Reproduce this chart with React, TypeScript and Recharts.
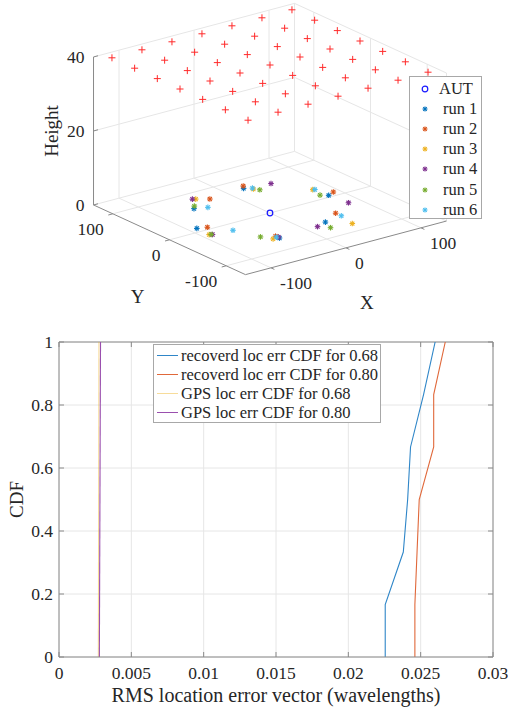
import { ScatterChart, Scatter, LineChart, Line, XAxis, YAxis, CartesianGrid, ReferenceLine, Legend } from 'recharts'

const SERIF = '"Liberation Serif", "Times New Roman", Times, serif'
const AXIS = '#8a8a8a'
const GRID = '#e6e6e6'
const INK = '#262626'

// ---------- top plot: positions in metres (x, y), height above ground ----------
const xLim = [-134, 134]
const yLim = [-134, 134]
const heightLim = [0, 40]
const xyTicks = [-100, 0, 100]
const heightTicks = [0, 20, 40]

// anchors flying at 40 m
const anchorX = [-120, -80, -40, 0, 40, 80, 120]
const anchorY = [120, 80, 40, 0, -40, -80, -120]
const anchorHeight = 40

const autPos = [[0, 0]]
const run1 = [[-56, 60], [23, 77], [82, 5], [30, -58], [-90, 10], [-38, -67]]
const run2 = [[-25, 73], [27, 83], [92, 10], [55, -43], [-79, 6], [-38, -60]]
const run3 = [[-37, 82], [30, 69], [79, 29], [50, -79], [-91, -13], [-45, -65]]
const run4 = [[-40, 84], [55, 71], [85, -26], [15, -64], [-88, -15], [-37, -64]]
const run5 = [[-51, 66], [34, 63], [75, 11], [24, -75], [-89, -14], [-52, -52]]
const run6 = [[-42, 54], [31, 72], [81, 28], [55, -53], [-63, -18], [-39, -63]]
const runs = [run1, run2, run3, run4, run5, run6]
const runNames = ['run 1', 'run 2', 'run 3', 'run 4', 'run 5', 'run 6']
const runColors = ['#0072BD', '#D95319', '#EDB120', '#7E2F8E', '#77AC30', '#4DBEEE']

// ---------- bottom plot: CDF of RMS location error ----------
const cdfLevels = [0, 0.1667, 0.3333, 0.5, 0.6667, 0.8333, 1]
const rec68 = [0.02255, 0.02255, 0.0238, 0.0241, 0.0243, 0.0252, 0.026]
const rec80 = [0.0246, 0.0246, 0.02475, 0.0249, 0.0259, 0.0259, 0.0267]
const gpsLevels = [0, 1]
const gps68 = [0.00272, 0.00276]
const gps80 = [0.00279, 0.00287]
const errTicks = [0, 0.005, 0.01, 0.015, 0.02, 0.025, 0.03]
const cdfTicks = [0, 0.2, 0.4, 0.6, 0.8, 1]
const cdfNames = ['recoverd loc err CDF for 0.68', 'recoverd loc err CDF for 0.80', 'GPS loc err CDF for 0.68', 'GPS loc err CDF for 0.80']
const cdfColors = ['#2f86c8', '#e0683a', '#EDB120', '#9a4fae']
const cdfOpacity = [1, 1, 0.45, 1]

// camera: screen offset per unit of x, y and height
const view = { ox: 270, oy: 213, ex: [0.75, -0.2], ey: [-0.567, -0.26], ez: [0, -3.7] }
function project(x: number, y: number, z: number) {
  return {
    sx: view.ox + x * view.ex[0] + y * view.ey[0] + z * view.ez[0],
    sy: view.oy + x * view.ex[1] + y * view.ey[1] + z * view.ez[1],
  }
}

const [x0, x1] = xLim
const [y0, y1] = yLim
const [z0, z1] = heightLim

type Seg = { a: number[]; b: number[]; axis?: boolean }
const segs: Seg[] = []
xyTicks.forEach(t => {
  segs.push({ a: [t, y0, 0], b: [t, y1, 0] })
  segs.push({ a: [x0, t, 0], b: [x1, t, 0] })
})
;[...xyTicks, x1].forEach(t => segs.push({ a: [t, y1, z0], b: [t, y1, z1] }))
;[...xyTicks, y0].forEach(t => segs.push({ a: [x1, t, z0], b: [x1, t, z1] }))
heightTicks.forEach(z => {
  segs.push({ a: [x0, y1, z], b: [x1, y1, z] })
  segs.push({ a: [x1, y0, z], b: [x1, y1, z] })
})
segs.push({ a: [x0, y1, 0], b: [x0, y0, 0], axis: true })
segs.push({ a: [x0, y0, 0], b: [x1, y0, 0], axis: true })
segs.push({ a: [x0, y1, z0], b: [x0, y1, z1], axis: true })
xyTicks.forEach(t => {
  segs.push({ a: [t, y0, 0], b: [t, y0 - 6, 0], axis: true })
  segs.push({ a: [x0, t, 0], b: [x0 - 6, t, 0], axis: true })
})
heightTicks.forEach(z => segs.push({ a: [x0, y1, z], b: [x0 + 6, y1, z], axis: true }))

const anchorPts = anchorY.flatMap(y => anchorX.map(x => project(x, y, anchorHeight)))
const autPts = autPos.map(([x, y]) => project(x, y, 0))
const runPts = runs.map(r => r.map(([x, y]) => project(x, y, 0)))

const labels3d = [
  ...heightTicks.map(z => ({ ...project(x0, y1, z), dx: -9, dy: 6, text: String(z), anchor: 'end', size: 17.5, rot: 0 })),
  ...xyTicks.map(t => ({ ...project(x0, t, 0), dx: -9, dy: 21, text: String(t), anchor: 'end', size: 17.5, rot: 0 })),
  ...xyTicks.map(t => ({ ...project(t, y0, 0), dx: 9, dy: 21, text: String(t), anchor: 'start', size: 17.5, rot: 0 })),
  { ...project(x0, y1, 20), dx: -36, dy: 0, text: 'Height', anchor: 'middle', size: 19, rot: -90 },
  { ...project(x0, 0, 0), dx: -32, dy: 63, text: 'Y', anchor: 'middle', size: 19, rot: 0 },
  { ...project(0, y0, 0), dx: 21, dy: 61, text: 'X', anchor: 'middle', size: 19, rot: 0 },
]

function Asterisk({ cx, cy, color, s = 2.8 }: any) {
  const d = s * 0.72
  return (
    <g stroke={color} strokeWidth={1.1}>
      <line x1={cx - s} y1={cy} x2={cx + s} y2={cy} />
      <line x1={cx} y1={cy - s} x2={cx} y2={cy + s} />
      <line x1={cx - d} y1={cy - d} x2={cx + d} y2={cy + d} />
      <line x1={cx - d} y1={cy + d} x2={cx + d} y2={cy - d} />
    </g>
  )
}

function Plus({ cx, cy }: any) {
  return (
    <g stroke="#ff2a2a" strokeWidth={1}>
      <line x1={cx - 3.5} y1={cy} x2={cx + 3.5} y2={cy} />
      <line x1={cx} y1={cy - 3.5} x2={cx} y2={cy + 3.5} />
    </g>
  )
}

function Ring({ cx, cy }: any) {
  return <circle cx={cx} cy={cy} r={2.8} fill="none" stroke="#1a1aff" strokeWidth={1.2} />
}

function Label3d(p: any) {
  const d = p.payload
  const x = p.cx + d.dx
  const y = p.cy + d.dy
  return (
    <text x={x} y={y} textAnchor={d.anchor} fontFamily={SERIF} fontSize={d.size} fill={INK}
      transform={d.rot ? `rotate(${d.rot} ${x} ${y})` : undefined}>
      {d.text}
    </text>
  )
}

function RunsLegend() {
  const items = ['AUT', ...runNames]
  return (
    <div style={{ position: 'relative', width: 73, height: 143, boxSizing: 'border-box', border: '1px solid #a8a8a8', background: '#fff', fontFamily: SERIF, fontSize: 16.5, color: INK }}>
      {items.map((name, i) => (
        <div key={name} style={{ position: 'absolute', left: 0, top: 2 + i * 20.1, height: 20, display: 'flex', alignItems: 'center', whiteSpace: 'nowrap' }}>
          <svg width={i === 0 ? 29 : 33} height={20}>
            {i === 0
              ? <Ring cx={15} cy={10} />
              : <Asterisk cx={15} cy={10} s={2.5} color={runColors[i - 1]} />}
          </svg>
          <span>{name}</span>
        </div>
      ))}
    </div>
  )
}

function CdfLegend() {
  return (
    <div style={{ position: 'relative', width: 228, height: 79, boxSizing: 'border-box', border: '1px solid #a8a8a8', background: '#fff', fontFamily: SERIF, fontSize: 16.5, color: INK }}>
      {cdfNames.map((name, i) => (
        <div key={name} style={{ position: 'absolute', left: 0, top: 1 + i * 19, height: 19, display: 'flex', alignItems: 'center', whiteSpace: 'nowrap' }}>
          <svg width={27} height={19}>
            <line x1={3} x2={24} y1={9.5} y2={9.5} stroke={cdfColors[i]} strokeOpacity={cdfOpacity[i]} />
          </svg>
          <span>{name}</span>
        </div>
      ))}
    </div>
  )
}

const PLOT_TOP = 32
const PLOT_BOTTOM = 347
const PLOT_LEFT = 59
const PLOT_RIGHT = 493

function XTick({ x, payload }: any) {
  return (
    <g>
      <line x1={x} x2={x} y1={PLOT_BOTTOM} y2={PLOT_BOTTOM - 5} stroke={AXIS} />
      <line x1={x} x2={x} y1={PLOT_TOP} y2={PLOT_TOP + 5} stroke={AXIS} />
      <text x={x} y={PLOT_BOTTOM + 22} textAnchor="middle" fontFamily={SERIF} fontSize={17.5} fill={INK}>{String(payload.value)}</text>
    </g>
  )
}

function YTick({ y, payload }: any) {
  return (
    <g>
      <line x1={PLOT_LEFT} x2={PLOT_LEFT + 5} y1={y} y2={y} stroke={AXIS} />
      <line x1={PLOT_RIGHT} x2={PLOT_RIGHT - 5} y1={y} y2={y} stroke={AXIS} />
      <text x={PLOT_LEFT - 6} y={y + 6} textAnchor="end" fontFamily={SERIF} fontSize={17.5} fill={INK}>{String(payload.value)}</text>
    </g>
  )
}

function XTitle() {
  return <text x={(PLOT_LEFT + PLOT_RIGHT) / 2} y={392} textAnchor="middle" fontFamily={SERIF} fontSize={20} fill={INK}>RMS location error vector (wavelengths)</text>
}

function YTitle() {
  const cx = 23
  const cy = (PLOT_TOP + PLOT_BOTTOM) / 2
  return <text x={cx} y={cy} textAnchor="middle" fontFamily={SERIF} fontSize={19} fill={INK} transform={`rotate(-90 ${cx} ${cy})`}>CDF</text>
}

const toSeries = (xs: number[], levels: number[]) => xs.map((err, i) => ({ err, cdf: levels[i] }))
const cdfSeries = [toSeries(rec68, cdfLevels), toSeries(rec80, cdfLevels), toSeries(gps68, gpsLevels), toSeries(gps80, gpsLevels)]

const TOP_H = 324

export default function App() {
  return (
    <div style={{ position: 'absolute', left: 0, top: 0, width: 508, height: 708, background: '#fff' }}>
      <div style={{ position: 'absolute', left: 0, top: 0 }}>
        <ScatterChart width={508} height={TOP_H} margin={{ top: 0, right: 0, bottom: 0, left: 0 }}>
          <XAxis type="number" dataKey="sx" domain={[0, 508]} hide />
          <YAxis type="number" dataKey="sy" domain={[0, TOP_H]} reversed hide />
          {segs.map((s, i) => {
            const p = project(s.a[0], s.a[1], s.a[2])
            const q = project(s.b[0], s.b[1], s.b[2])
            return (
              <ReferenceLine key={i} segment={[{ x: p.sx, y: p.sy }, { x: q.sx, y: q.sy }]}
                stroke={s.axis ? AXIS : GRID} strokeWidth={1} ifOverflow="visible" />
            )
          })}
          <Scatter name="anchors" data={anchorPts} shape={(p: any) => <Plus {...p} />} legendType="none" isAnimationActive={false} />
          <Scatter name="AUT" data={autPts} fill="#1a1aff" shape={(p: any) => <Ring {...p} />} isAnimationActive={false} />
          {runPts.map((pts, i) => (
            <Scatter key={runNames[i]} name={runNames[i]} data={pts} fill={runColors[i]}
              shape={(p: any) => <Asterisk cx={p.cx} cy={p.cy} color={runColors[i]} />} isAnimationActive={false} />
          ))}
          <Scatter name="labels" data={labels3d} shape={(p: any) => <Label3d {...p} />} legendType="none" isAnimationActive={false} />
          <Legend layout="vertical" align="center" verticalAlign="middle"
            wrapperStyle={{ left: 409, top: 76, width: 73, height: 143 }}
            content={() => <RunsLegend />} />
        </ScatterChart>
      </div>
      <div style={{ position: 'absolute', left: 0, top: 310 }}>
        <LineChart width={508} height={398} margin={{ top: PLOT_TOP, right: 508 - PLOT_RIGHT, bottom: 0, left: 0 }}>
          <CartesianGrid stroke={GRID} />
          <XAxis type="number" dataKey="err" domain={[0, 0.03]} ticks={errTicks} interval={0} height={51}
            tickSize={0} tickMargin={8} tickLine={false} stroke={AXIS} tick={(p: any) => <XTick {...p} />}
            label={<XTitle />} allowDataOverflow />
          <YAxis type="number" dataKey="cdf" domain={[0, 1]} ticks={cdfTicks} interval={0} width={PLOT_LEFT}
            tickSize={0} tickMargin={6} tickLine={false} stroke={AXIS} tick={(p: any) => <YTick {...p} />}
            label={<YTitle />} allowDataOverflow />
          <ReferenceLine x={0.03} stroke={AXIS} />
          <ReferenceLine y={1} stroke={AXIS} />
          {cdfSeries.map((data, i) => (
            <Line key={cdfNames[i]} name={cdfNames[i]} data={data} dataKey="cdf" stroke={cdfColors[i]}
              strokeOpacity={cdfOpacity[i]} strokeWidth={1.1} dot={false} isAnimationActive={false} />
          ))}
          <Legend layout="vertical" align="center" verticalAlign="middle"
            wrapperStyle={{ left: 153, top: 34, width: 228, height: 79 }}
            content={() => <CdfLegend />} />
        </LineChart>
      </div>
    </div>
  )
}
